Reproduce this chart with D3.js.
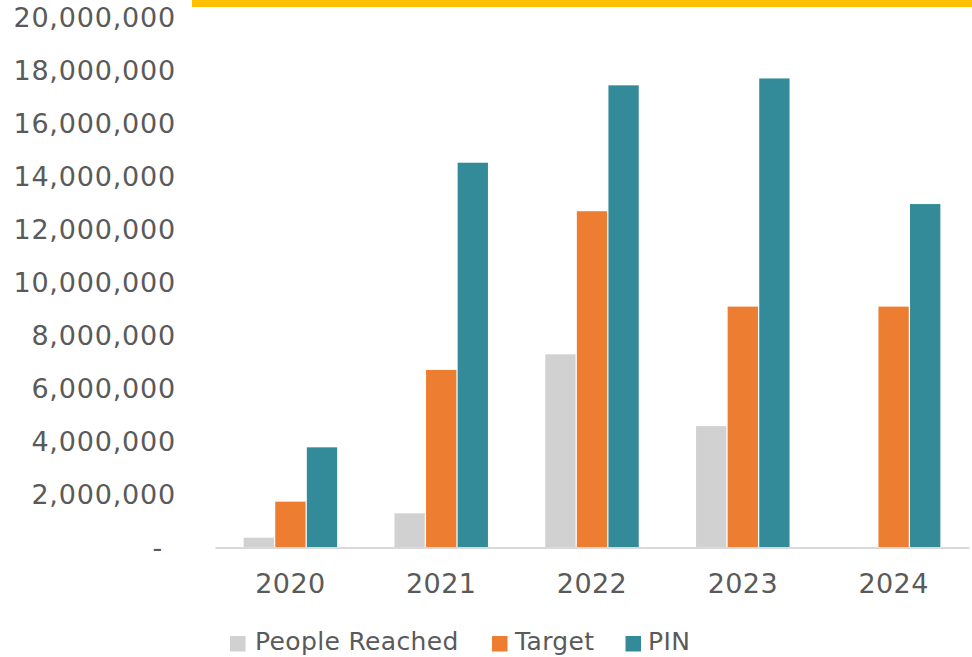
<!DOCTYPE html>
<html>
<head>
<meta charset="utf-8">
<script src="https://cdn.jsdelivr.net/npm/d3@7"></script>
<style>
  html, body { margin: 0; padding: 0; background: #ffffff; }
  svg { display: block; }
</style>
</head>
<body>
<svg id="chart" width="972" height="657"></svg>
<script>
const years = ["2020", "2021", "2022", "2023", "2024"];
const seriesNames = ["People Reached", "Target", "PIN"];
const peopleReached = [370000, 1290000, 7290000, 4580000, 0];
const target = [1730000, 6700000, 12690000, 9090000, 9090000];
const pin = [3780000, 14520000, 17440000, 17700000, 12960000];
const yTicks = [0, 2000000, 4000000, 6000000, 8000000, 10000000, 12000000, 14000000, 16000000, 18000000, 20000000];
const colors = ["#d1d1d1", "#ed7d31", "#338b9a"];

const seriesValues = [peopleReached, target, pin];
const svg = d3.select("#chart");
const font = "'DejaVu Sans', sans-serif";
const textColor = "#5a5a5a";

// top yellow band
svg.append("rect").attr("x", 192).attr("y", 0).attr("width", 780).attr("height", 7).attr("fill", "#ffc000");

const y = d3.scaleLinear().domain([0, 20000000]).range([547.5, 17.5]);
const x0 = d3.scaleBand().domain(years).range([215, 969]).paddingInner(0.38).paddingOuter(0.19);
const x1 = d3.scaleBand().domain(seriesNames).range([0, x0.bandwidth()]).paddingInner(0.04);

const rows = years.map((yr, i) => ({ year: yr, vals: seriesNames.map((s, j) => ({ name: s, v: seriesValues[j][i], c: colors[j] })) }));

const groups = svg.append("g").selectAll("g").data(rows).join("g")
  .attr("transform", d => `translate(${x0(d.year)},0)`);
groups.selectAll("rect").data(d => d.vals.filter(e => e.v > 0)).join("rect")
  .attr("x", d => x1(d.name))
  .attr("width", x1.bandwidth())
  .attr("y", d => y(d.v))
  .attr("height", d => y(0) - y(d.v))
  .attr("fill", d => d.c);

// y axis
const fmt = d3.format(",");
const yAxis = svg.append("g").attr("transform", "translate(215,0)")
  .call(d3.axisLeft(y).tickValues(yTicks).tickSize(0).tickPadding(39)
    .tickFormat(d => d === 0 ? "-" : fmt(d)));
yAxis.select(".domain").remove();
yAxis.selectAll("text").attr("fill", textColor).style("font-family", font).style("font-size", "27px")
  .style("letter-spacing", "0.8px")
  .attr("dx", d => d === 0 ? "-13px" : 0);

// x axis
const xAxis = svg.append("g").attr("transform", `translate(0,${y(0)})`)
  .call(d3.axisBottom(x0).tickSize(0).tickPadding(26));
xAxis.select(".domain").attr("stroke", "#d9d9d9").attr("stroke-width", 2);
xAxis.selectAll("text").attr("fill", textColor).style("font-family", font).style("font-size", "27px")
  .style("letter-spacing", "0.4px");

// legend
const legendPos = [{ sx: 230, tx: 255 }, { sx: 492, tx: 515 }, { sx: 625.5, tx: 648 }];
const legend = svg.append("g").selectAll("g").data(seriesNames).join("g");
legend.append("rect").attr("x", (d, i) => legendPos[i].sx).attr("y", 636).attr("width", 15.5).attr("height", 15.5)
  .attr("fill", (d, i) => colors[i]);
legend.append("text").attr("x", (d, i) => legendPos[i].tx).attr("y", 650)
  .attr("fill", textColor).style("font-family", font).style("font-size", "25px")
  .style("letter-spacing", "0.35px").text(d => d);
</script>
</body>
</html>
